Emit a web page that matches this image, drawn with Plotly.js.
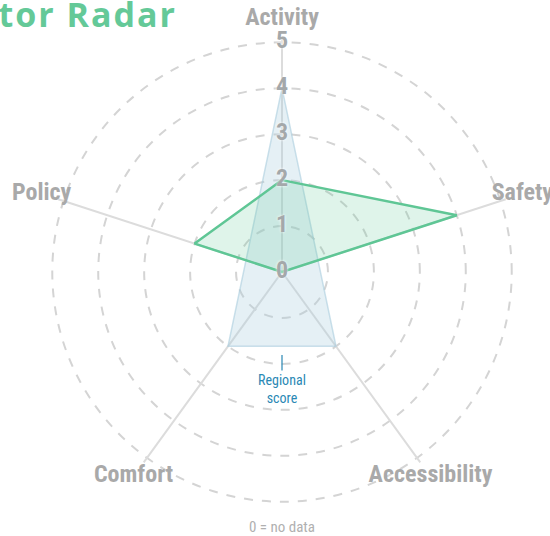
<!DOCTYPE html>
<html>
<head>
    <title>Indicator Radar</title>
    <script src="https://cdn.plot.ly/plotly-3.0.1.min.js"></script>
    <style>
        body { margin: 0; background-color: white; }
        #radar { width: 550px; height: 536px; }
        #radar .gtitle { letter-spacing: 2px; }
    </style>
</head>
<body>
    <div id="radar"></div>
    <script>
        // Axes of the radar, clockwise from the top
        const categories = ['Activity', 'Safety', 'Accessibility', 'Comfort', 'Policy'];
        // Regional score (blank = no data, skipped)
        const regionalScore = [4, null, 2, 2, null];
        // Local score
        const localScore = [2, 4, 0, 0, 2];
        // Radial tick labels drawn along the Activity spoke
        const scaleLabels = [0, 1, 2, 3, 4, 5];

        const font = 'Roboto Condensed, Roboto, Arial, sans-serif';
        const closeLoop = arr => arr.concat([arr[0]]);

        // spokes, one short line per axis
        const spokeTraces = categories.map(c => ({
            type: 'scatterpolar',
            r: [0, 5.12],
            theta: [c, c],
            mode: 'lines',
            line: {color: '#dcdcdc', width: 2},
            hoverinfo: 'skip'
        }));

        const regionalTrace = {
            type: 'scatterpolar',
            r: closeLoop(regionalScore),
            theta: closeLoop(categories),
            connectgaps: true,
            fill: 'toself',
            fillcolor: 'rgba(170,205,222,0.30)',
            mode: 'lines',
            line: {color: 'rgba(170,205,222,0.6)', width: 1.5},
            hoverinfo: 'skip'
        };

        const localTrace = {
            type: 'scatterpolar',
            r: closeLoop(localScore),
            theta: closeLoop(categories),
            fill: 'toself',
            fillcolor: 'rgba(96,199,149,0.20)',
            mode: 'lines',
            line: {color: '#5fc695', width: 2.5},
            hoverinfo: 'skip'
        };

        const scaleTrace = {
            type: 'scatterpolar',
            r: scaleLabels,
            theta: scaleLabels.map(() => categories[0]),
            mode: 'text',
            text: scaleLabels.map(String),
            textposition: 'middle center',
            textfont: {family: font, size: 24, color: '#a4a8aa', weight: 'bold', shadow: '0px 0px 3px white'},
            hoverinfo: 'skip'
        };

        // axis names, centred just outside the outer ring
        const nameTrace = {
            type: 'scatterpolar',
            r: categories.map(() => 5.5),
            theta: categories,
            mode: 'text',
            text: categories,
            textposition: 'middle center',
            cliponaxis: false,
            textfont: {family: font, size: 24, color: '#a9a9a9', weight: 'bold'},
            hoverinfo: 'skip'
        };

        const layout = {
            width: 550,
            height: 536,
            margin: {l: 27, r: 13, t: 17, b: 9},
            paper_bgcolor: 'white',
            showlegend: false,
            title: {
                text: 'Indicator Radar',
                font: {family: 'Open Sans, sans-serif', size: 34, color: '#64c998', weight: 'bold'},
                xref: 'container',
                yref: 'container',
                x: 177 / 550,
                xanchor: 'right',
                y: 1 - 15 / 536,
                yanchor: 'middle'
            },
            polar: {
                domain: {x: [0, 1], y: [0, 1]},
                bgcolor: 'white',
                radialaxis: {
                    range: [0, 5.55],
                    tickvals: [1, 2, 3, 4, 5],
                    showticklabels: false,
                    ticks: '',
                    showline: false,
                    angle: 90,
                    gridcolor: '#d4d4d4',
                    gridwidth: 2,
                    griddash: 'dash'
                },
                angularaxis: {
                    type: 'category',
                    categoryarray: categories,
                    rotation: 90,
                    direction: 'clockwise',
                    showline: false,
                    showticklabels: false,
                    showgrid: false,
                    ticks: ''
                }
            },
            annotations: [
                {
                    text: 'Regional<br>score',
                    xref: 'paper', yref: 'paper',
                    x: 0.5, y: 0.3373,
                    showarrow: true, arrowhead: 0, arrowwidth: 1.2, arrowcolor: '#2a88b4',
                    ax: 0, ay: 34,
                    font: {family: font, size: 14, color: '#2a88b4'}
                },
                {
                    text: '0 = no data',
                    xref: 'paper', yref: 'paper',
                    x: 0.5, y: 0.0,
                    yanchor: 'middle',
                    showarrow: false,
                    font: {family: font, size: 15, color: '#b0b0b0'}
                }
            ]
        };

        Plotly.newPlot('radar', spokeTraces.concat([regionalTrace, localTrace, scaleTrace, nameTrace]), layout, {displayModeBar: false, staticPlot: true});
    </script>
</body>
</html>
